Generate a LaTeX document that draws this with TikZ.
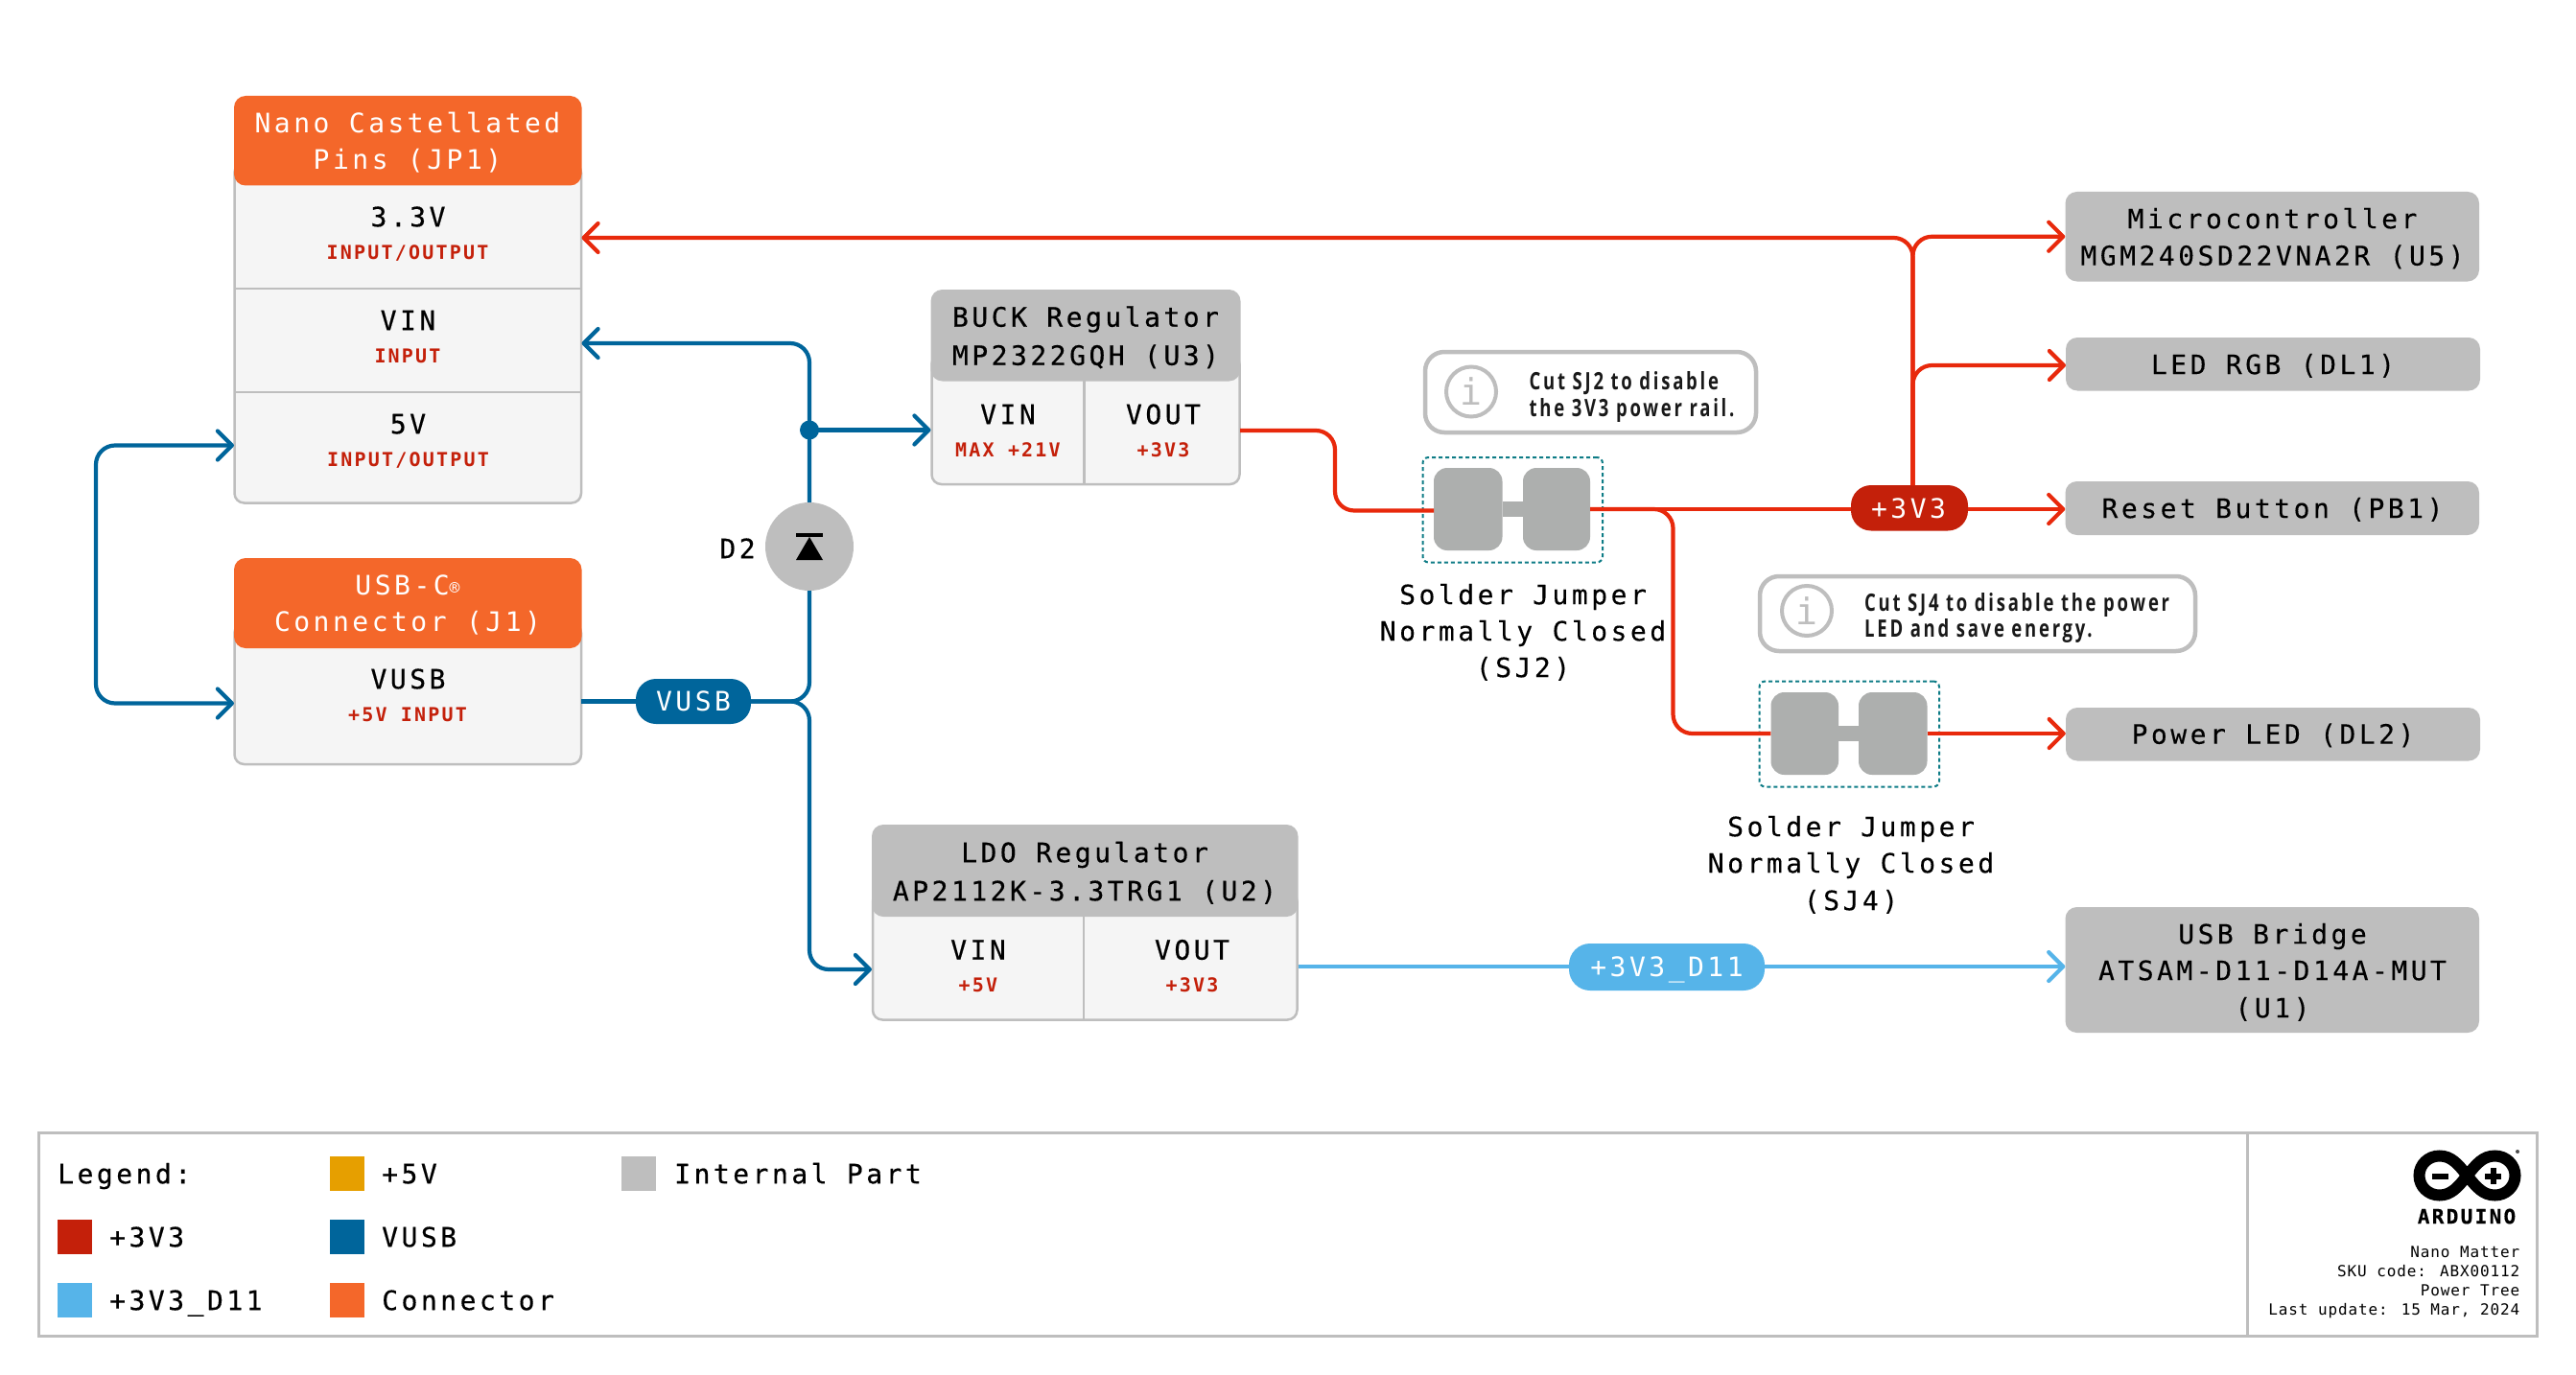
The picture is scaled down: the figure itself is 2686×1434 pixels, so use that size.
\documentclass[tikz,border=0pt]{standalone}
\usepackage{fontspec}
\usetikzlibrary{arrows.meta}
\newfontfamily\mainfam[LetterSpace=12.5,FakeBold=0.15]{DejaVu Sans Mono}
\newfontfamily\medfam[LetterSpace=12.5,FakeBold=0.45]{DejaVu Sans Mono}
\newfontfamily\whitefam[LetterSpace=12.5]{DejaVu Sans Mono}
\newfontfamily\subfam[LetterSpace=11]{DejaVu Sans Mono}
\newfontfamily\footfam[LetterSpace=5.5]{DejaVu Sans Mono}
\newfontfamily\logofam[LetterSpace=11,FakeBold=0.5]{DejaVu Sans Mono}
\newfontfamily\notefam[FakeStretch=.74,LetterSpace=11]{Open Sans}
\definecolor{wirered}{HTML}{E8290C}
\definecolor{pillred}{HTML}{C4200A}
\definecolor{vusbblue}{HTML}{00659B}
\definecolor{skyblue}{HTML}{56B4E9}
\definecolor{conorange}{HTML}{F4672A}
\definecolor{partgray}{HTML}{BEBEBE}
\definecolor{bodyfill}{HTML}{F5F5F5}
\definecolor{padgray}{HTML}{ADAFAE}
\definecolor{dashteal}{HTML}{0E7C86}
\definecolor{amberleg}{HTML}{E69F00}
\newcommand{\bx}[7]{\node[#6,inner sep=0pt,minimum width=#4pt-#2pt,minimum height=#5pt-#3pt] (#1) at ({(#2+#4)/2},{(#3+#5)/2}) {#7};}
\newcommand{\tl}[5]{\node[#4] (#1) at (#2,#3) {#5};}
\tikzset{
  barbtip/.tip={Straight Barb[length=15pt,width=30pt,round]},
  mainT/.style={font=\mainfam\fontsize{28}{28}\selectfont,text height=20.4pt,text depth=0pt,inner sep=0pt},
  medT/.style={font=\medfam\fontsize{28}{28}\selectfont,text height=20.4pt,text depth=0pt,inner sep=0pt},
  whiteT/.style={font=\whitefam\fontsize{28}{28}\selectfont,text=white,text height=20.4pt,text depth=0pt,inner sep=0pt},
  subT/.style={font=\subfam\bfseries\fontsize{20}{20}\selectfont,text=pillred,text height=14.6pt,text depth=0pt,inner sep=0pt},
  footT/.style={font=\footfam\fontsize{16}{16}\selectfont,text height=11.6pt,text depth=0pt,inner sep=0pt,anchor=east},
  noteT/.style={font=\notefam\bfseries\fontsize{25}{25}\selectfont,text=black!90,text height=18pt,text depth=0pt,inner sep=0pt,anchor=west},
  body/.style={draw=partgray,line width=2.5pt,fill=bodyfill,rounded corners=10pt},
  header/.style={fill=conorange,rounded corners=12pt},
  part/.style={fill=partgray,rounded corners=12pt},
  divider/.style={draw=partgray,line width=2.5pt},
  notebox/.style={draw=partgray,line width=4.5pt,fill=white,rounded corners=20pt},
  infocircle/.style={circle,draw=partgray,line width=4pt,minimum size=52pt,inner sep=0pt,fill=white},
  infoi/.style={font=\whitefam\fontsize{38}{38}\selectfont,text=partgray,inner sep=0pt},
  sjbox/.style={draw=dashteal,line width=2pt,dash pattern=on 4pt off 3pt,rounded corners=6pt},
  padbox/.style={fill=padgray,rounded corners=14pt},
  redwire/.style={draw=wirered,line width=4.2pt,rounded corners=20pt},
  bluewire/.style={draw=vusbblue,line width=4.2pt,rounded corners=20pt},
  skywire/.style={draw=skyblue,line width=4.2pt},
  frame/.style={draw=partgray,line width=3pt},
}
\begin{document}
\begin{tikzpicture}[x=1pt,y=-1pt]
\useasboundingbox[fill=white] (0,0) rectangle (2686,1434);

% JP1
\bx{jpbody}{244.5}{170}{606}{524.5}{body}{}
\bx{jphead}{244}{100}{606.5}{193.5}{header}{}
\tl{jpt1}{425}{128}{whiteT}{Nano Castellated}
\tl{jpt2}{425}{166}{whiteT}{Pins (JP1)}
\draw[divider] (244.5,301) -- (606,301);
\draw[divider] (244.5,409) -- (606,409);
\tl{jp33t}{425.5}{226}{medT}{3.3V}
\tl{jp33s}{425}{263}{subT}{INPUT/OUTPUT}
\tl{jpvint}{425.5}{334}{medT}{VIN}
\tl{jpvins}{425}{371}{subT}{INPUT}
\tl{jp5t}{425.5}{442}{medT}{5V}
\tl{jp5s}{425.5}{479}{subT}{INPUT/OUTPUT}
\coordinate (p33) at (606.5,248);
\coordinate (pvin) at (606.5,358);
\coordinate (p5v) at (244,464.5);

% J1
\bx{usbbody}{244.5}{650}{606}{797}{body}{}
\bx{usbhead}{244}{582}{606.5}{676}{header}{}
\tl{usbt1}{425}{610}{whiteT}{USB-C\raisebox{1pt}{\fontsize{18}{18}\selectfont ®}}
\tl{usbt2}{425}{648}{whiteT}{Connector (J1)}
\tl{usbvt}{425.5}{708}{medT}{VUSB}
\tl{usbvs}{425}{745}{subT}{+5V INPUT}
\coordinate (pusbin) at (244,733.5);
\coordinate (pusbout) at (606,731.5);

% VUSB pill and D2
\bx{vusbpill}{663}{708}{783}{755}{fill=vusbblue,rounded corners=21pt}{}
\tl{vusbpt}{723}{731.5}{whiteT}{VUSB}
\node[circle,fill=partgray,minimum size=92pt,inner sep=0pt] (d2) at (844,570) {};
\fill (830,556) rectangle (858,560);
\fill (844,560) -- (858,584) -- (830,584) -- cycle;
\tl{d2t}{769}{572}{medT,font=\medfam\fontsize{28}{28}\selectfont}{D2}
\node[circle,fill=vusbblue,minimum size=20pt,inner sep=0pt] (jct) at (844,448.5) {};

% U3
\bx{u3body}{971.5}{370}{1292.5}{505}{body}{}
\bx{u3head}{970.5}{302}{1293.5}{397.5}{part}{}
\draw[divider] (1130.7,397) -- (1130.7,505);
\tl{u3t1}{1132}{330.5}{medT}{BUCK Regulator}
\tl{u3t2}{1132}{370.5}{medT}{MP2322GQH (U3)}
\tl{u3vint}{1051}{432}{medT}{VIN}
\tl{u3vins}{1051}{469}{subT}{MAX +21V}
\tl{u3outt}{1213}{432}{medT}{VOUT}
\tl{u3outs}{1213}{469}{subT}{+3V3}
\coordinate (u3in) at (970.5,449);
\coordinate (u3out) at (1293,449);

% U2
\bx{u2body}{910}{930}{1352.5}{1063.5}{body}{}
\bx{u2head}{909}{860}{1353.5}{956}{part}{}
\draw[divider] (1130,956) -- (1130,1063.5);
\tl{u2t1}{1131}{889}{medT}{LDO Regulator}
\tl{u2t2}{1131}{929}{medT}{AP2112K-3.3TRG1 (U2)}
\tl{u2vint}{1020}{990.5}{medT}{VIN}
\tl{u2vins}{1020}{1027}{subT}{+5V}
\tl{u2outt}{1243}{990.5}{medT}{VOUT}
\tl{u2outs}{1243}{1027}{subT}{+3V3}
\coordinate (u2in) at (909,1011);
\coordinate (u2out) at (1353.5,1008);

% Notes
\bx{note1}{1486}{367}{1831}{451}{notebox}{}
\node[infocircle] (info1) at (1534,408.5) {};
\tl{info1i}{1534}{408.5}{infoi}{i}
\tl{note1a}{1594.5}{397}{noteT}{Cut SJ2 to disable}
\tl{note1b}{1594.5}{425}{noteT}{the 3V3 power rail.}
\bx{note2}{1835}{601}{2289}{679}{notebox}{}
\node[infocircle] (info2) at (1884,637) {};
\tl{info2i}{1884}{637}{infoi}{i}
\tl{note2a}{1944}{628}{noteT}{Cut SJ4 to disable the power}
\tl{note2b}{1944}{655.5}{noteT}{LED and save energy.}

% SJ2
\bx{sj2box}{1483.5}{477}{1671}{586.5}{sjbox}{}
\bx{sj2l}{1495}{488}{1566.5}{574}{padbox}{}
\bx{sj2r}{1588}{488}{1658}{574}{padbox}{}
\draw[padgray,line width=16pt] (sj2l.east) -- (sj2r.west);
\tl{sj2t1}{1588}{620}{mainT}{Solder Jumper}
\tl{sj2t2}{1588}{658}{mainT}{Normally Closed}
\tl{sj2t3}{1588}{696}{mainT}{(SJ2)}
\coordinate (sj2in) at (1495,532.5);

% SJ4
\bx{sj4box}{1834.5}{710.5}{2022}{820.5}{sjbox}{}
\bx{sj4l}{1846.5}{722}{1917}{808}{padbox}{}
\bx{sj4r}{1938}{722}{2009.5}{808}{padbox}{}
\draw[padgray,line width=16pt] (sj4l.east) -- (sj4r.west);
\tl{sj4t1}{1930}{862}{mainT}{Solder Jumper}
\tl{sj4t2}{1930}{900}{mainT}{Normally Closed}
\tl{sj4t3}{1930}{939}{mainT}{(SJ4)}

% Right boxes
\bx{u5}{2153.5}{200}{2585}{293.5}{part}{}
\tl{u5t1}{2369.5}{228}{mainT}{Microcontroller}
\tl{u5t2}{2369.5}{266.5}{mainT}{MGM240SD22VNA2R (U5)}
\bx{dl1}{2154}{352}{2586}{407.5}{part}{}
\tl{dl1t}{2370}{380}{mainT}{LED RGB (DL1)}
\bx{pb1}{2153.5}{502}{2585}{558}{part}{}
\tl{pb1t}{2369.5}{530}{mainT}{Reset Button (PB1)}
\bx{dl2}{2154}{738}{2586}{793.5}{part}{}
\tl{dl2t}{2370}{765.5}{mainT}{Power LED (DL2)}
\bx{u1}{2153.5}{946}{2585}{1077}{part}{}
\tl{u1t1}{2369.5}{974}{mainT}{USB Bridge}
\tl{u1t2}{2369.5}{1012}{mainT}{ATSAM-D11-D14A-MUT}
\tl{u1t3}{2369.5}{1051}{mainT}{(U1)}

% Pills
\bx{redpill}{1930}{506}{2052}{553.5}{fill=pillred,rounded corners=21pt}{}
\tl{redpt}{1990}{530}{whiteT}{+3V3}
\bx{skypill}{1636}{984}{1840}{1033}{fill=skyblue,rounded corners=22pt}{}
\tl{skypt}{1738}{1008.5}{whiteT}{+3V3\_D11}

% Connectors
\coordinate (trunk) at (1994.5,506);
\coordinate (dl1in) at (2154,381);
\draw[redwire,-{barbtip}] (trunk) |- (p33);
\draw[redwire,-{barbtip}] (trunk) |- (u5.west);
\draw[redwire,-{barbtip}] (trunk) |- (dl1in);
\draw[redwire,-{barbtip}] (redpill.east |- sj2r.east) -- (pb1.west |- sj2r.east);
\draw[redwire] (sj2r.east) -- (redpill.west |- sj2r.east);
\coordinate (bendA) at (1392,490);
\draw[redwire] (u3out) -| (bendA) |- (sj2in);
\coordinate (bendB) at (1744.5,650);
\draw[redwire] (sj2r.east) -| (bendB) |- (sj4l.west);
\draw[redwire,-{barbtip}] (sj4r.east) -- (dl2.west |- sj4r.east);

\coordinate (loopx) at (100,600);
\draw[bluewire,{barbtip}-{barbtip}] (p5v) -| (loopx) |- (pusbin);
\draw[bluewire] (pusbout) -- (vusbpill.west |- pusbout);
\draw[bluewire] (vusbpill.east) -| (d2.south);
\coordinate (lowx) at (844,900);
\draw[bluewire,-{barbtip}] (vusbpill.east) -| (lowx) |- (u2in);
\draw[bluewire,-{barbtip}] (d2.north) |- (pvin);
\draw[bluewire,-{barbtip}] (jct.center) -- (jct.center -| u3in);
\draw[skywire] (u2out) -- (skypill.west |- u2out);
\draw[skywire,-{barbtip}] (skypill.east |- u2out) -- (u1.west |- u2out);

% Legend
\draw[frame] (40.5,1181) rectangle (2645.5,1393);
\draw[frame] (2343.5,1181) -- (2343.5,1393);
\tl{legt}{60}{1224}{medT,anchor=west}{Legend:}
\bx{sw1}{344}{1206}{380}{1242}{fill=amberleg}{}
\tl{sw1t}{398}{1224}{medT,anchor=west}{+5V}
\bx{sw2}{648}{1206}{684}{1242}{fill=partgray}{}
\tl{sw2t}{703}{1224}{medT,anchor=west}{Internal Part}
\bx{sw3}{60}{1272}{96}{1308}{fill=pillred}{}
\tl{sw3t}{114}{1290}{medT,anchor=west}{+3V3}
\bx{sw4}{344}{1272}{380}{1308}{fill=vusbblue}{}
\tl{sw4t}{398}{1290}{medT,anchor=west}{VUSB}
\bx{sw5}{60}{1338}{96}{1374}{fill=skyblue}{}
\tl{sw5t}{114}{1356}{medT,anchor=west}{+3V3\_D11}
\bx{sw6}{344}{1338}{380}{1374}{fill=conorange}{}
\tl{sw6t}{398}{1356}{medT,anchor=west}{Connector}

% Logo
\draw[black,line width=12pt] (2572.5,1226) .. controls (2563,1214) and (2556,1205.5) .. (2543.5,1205.5)
  .. controls (2532,1205.5) and (2522.5,1214.5) .. (2522.5,1226)
  .. controls (2522.5,1237.5) and (2532,1246.5) .. (2543.5,1246.5)
  .. controls (2556,1246.5) and (2563,1238) .. (2572.5,1226)
  .. controls (2582,1214) and (2589,1205.5) .. (2601.5,1205.5)
  .. controls (2613,1205.5) and (2622.5,1214.5) .. (2622.5,1226)
  .. controls (2622.5,1237.5) and (2613,1246.5) .. (2601.5,1246.5)
  .. controls (2589,1246.5) and (2582,1238) .. (2572.5,1226) -- cycle;
\fill (2536,1223.5) rectangle (2553,1229.5);
\fill (2591,1223.5) rectangle (2608,1229.5);
\fill (2596.5,1218) rectangle (2602.5,1235);
\fill[black!70] (2625,1201) circle (2pt);
\tl{logot}{2572}{1268.5}{font=\logofam\bfseries\fontsize{21}{21}\selectfont,text height=15.3pt,text depth=0pt,inner sep=0pt}{ARDUINO}
\tl{ft1}{2627.5}{1305.5}{footT}{Nano Matter}
\tl{ft2}{2627.5}{1325.5}{footT}{SKU code: ABX00112}
\tl{ft3}{2627.5}{1345.5}{footT}{Power Tree}
\tl{ft4}{2627.5}{1365.5}{footT}{Last update: 15 Mar, 2024}
\end{tikzpicture}
\end{document}
